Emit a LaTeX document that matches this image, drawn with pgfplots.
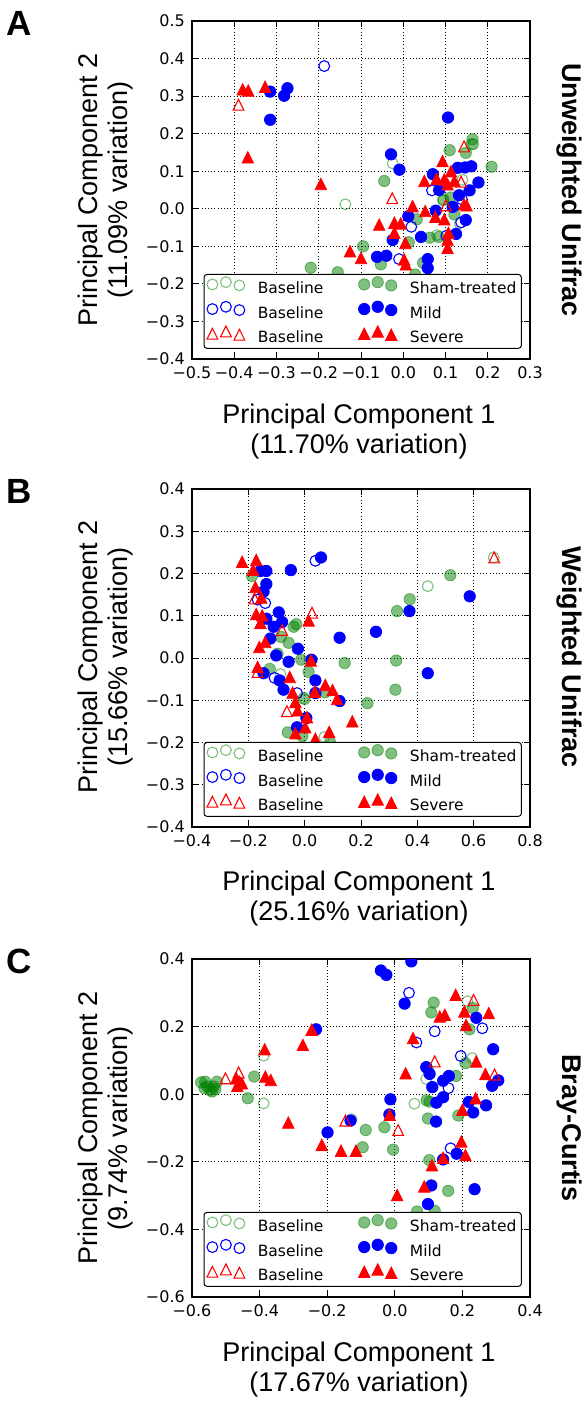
\documentclass[border=0pt]{standalone}
\usepackage{fontspec}
\setmainfont{DejaVu Sans}
\newfontfamily\lab{Liberation Sans}
\usepackage{pgfplots}
\pgfplotsset{compat=1.18}
\definecolor{mg}{rgb}{0,0.5,0}
\definecolor{mb}{rgb}{0,0,1}
\definecolor{mr}{rgb}{1,0,0}
\pgfdeclareplotmark{mtri}{%
  \pgfpathmoveto{\pgfqpoint{0pt}{\pgfplotmarksize}}%
  \pgfpathlineto{\pgfqpoint{-\pgfplotmarksize}{-\pgfplotmarksize}}%
  \pgfpathlineto{\pgfqpoint{\pgfplotmarksize}{-\pgfplotmarksize}}%
  \pgfpathclose\pgfusepathqfillstroke}
\pgfdeclareplotmark{mtrio}{%
  \pgfpathmoveto{\pgfqpoint{0pt}{\pgfplotmarksize}}%
  \pgfpathlineto{\pgfqpoint{-\pgfplotmarksize}{-\pgfplotmarksize}}%
  \pgfpathlineto{\pgfqpoint{\pgfplotmarksize}{-\pgfplotmarksize}}%
  \pgfpathclose\pgfusepathqstroke}
\tikzset{
  leg3/.style={/pgfplots/legend image code/.code={\draw[##1] plot[only marks] coordinates {(0pt,4pt) (13.5pt,6.3pt) (27pt,3pt)};}},
  sgo/.style={mark=o, mark size=5.4pt, mark options={draw=mg, draw opacity=0.5, line width=1.1pt}, leg3},
  sgf/.style={mark=*, mark size=5.7pt, mark options={draw=mg, fill=mg, draw opacity=0.5, fill opacity=0.5, line width=0.8pt}, leg3},
  sbo/.style={mark=o, mark size=5.4pt, mark options={draw=mb, line width=1.1pt}, leg3},
  sbf/.style={mark=*, mark size=5.7pt, mark options={draw=mb, fill=mb, line width=0.8pt}, leg3},
  sro/.style={mark=mtrio, mark size=5.4pt, mark options={draw=mr, line width=1.1pt}, leg3},
  srf/.style={mark=mtri, mark size=5.7pt, mark options={draw=mr, fill=mr, line width=0.8pt}, leg3},
}
\newcommand\labfont{\lab\fontsize{27}{30}\selectfont}
\pgfplotsset{pc/.style={
  scale only axis, width=338pt, height=338pt, anchor=north west,
  axis line style={line width=1.2pt},
  grid=major, major grid style={black, line width=0.8pt, dash pattern=on 1pt off 2.2pt},
  tick align=inside, major tick length=6pt, tick style={black, line width=0.9pt},
  every tick label/.append style={font=\fontsize{16}{18}\selectfont, inner sep=0pt},
  xticklabel style={yshift=-7pt}, yticklabel style={xshift=-7pt},
  clip marker paths=true,
  legend columns=2, legend cell align=left,
  legend style={at={(0.505,0.03)}, anchor=south, draw=black, line width=1pt, rounded corners=3pt,
    fill=white, font=\fontsize{15.5}{17}\selectfont, inner xsep=3pt, inner ysep=2pt, row sep=4pt,
    /tikz/every odd column/.append style={column sep=11pt},
    /tikz/every even column/.append style={column sep=33pt}},
}}
\begin{document}
\begin{tikzpicture}
\useasboundingbox (0,0) rectangle (584pt,-1403pt);
% ---------------- A
\begin{axis}[pc, at={(192pt,-21pt)},
  xmin=-0.5, xmax=0.3, ymin=-0.4, ymax=0.5,
  xtick={-0.5,-0.4,-0.3,-0.2,-0.1,0,0.1,0.2,0.3},
  xticklabels={−0.5,−0.4,−0.3,−0.2,−0.1,0.0,0.1,0.2,0.3},
  ytick={-0.4,-0.3,-0.2,-0.1,0,0.1,0.2,0.3,0.4,0.5},
  yticklabels={−0.4,−0.3,−0.2,−0.1,0.0,0.1,0.2,0.3,0.4,0.5}]
\addplot[only marks, sgo] coordinates {(-0.025,0.121) (-0.137,0.012) (0.094,0.022) (0.080,-0.070) (0.140,0.077) (0.166,0.172) (0.134,-0.039)};
\addplot[only marks, sgf] coordinates {(0.164,0.185) (0.162,0.172) (0.148,0.149) (0.110,0.156) (0.209,0.112) (-0.045,0.074) (0.032,-0.028) (0.063,-0.077) (0.084,-0.075) (-0.095,-0.100) (-0.053,-0.148) (-0.155,-0.169) (-0.219,-0.157) (0.013,-0.089) (0.028,-0.175) (0.047,-0.144) (0.121,-0.015) (0.095,0.025) (0.112,0.030)};
\addplot[only marks, sbo] coordinates {(-0.187,0.380) (0.068,0.049) (0.019,-0.048) (-0.010,-0.134) (0.137,-0.036) (0.102,-0.072) (0.139,0.025)};
\addplot[only marks, sbf] coordinates {(-0.315,0.312) (-0.282,0.301) (-0.274,0.321) (-0.315,0.237) (0.106,0.243) (-0.029,0.145) (-0.009,0.104) (0.070,0.092) (0.129,0.109) (0.146,0.110) (0.161,0.113) (0.178,0.070) (0.157,0.049) (0.132,0.036) (0.117,0.005) (0.077,-0.005) (0.148,-0.030) (0.125,-0.067) (0.042,-0.075) (-0.025,-0.083) (0.012,-0.020) (-0.062,-0.128) (-0.040,-0.125) (0.058,-0.134) (0.058,-0.158) (0.085,0.050)};
\addplot[only marks, sro] coordinates {(-0.390,0.277) (0.144,0.166) (0.137,0.072) (-0.026,0.028) (0.101,0.009)};
\addplot[only marks, srf] coordinates {(-0.380,0.318) (-0.367,0.315) (-0.327,0.325) (-0.368,0.137) (-0.195,0.066) (0.093,0.127) (0.113,0.100) (0.097,0.078) (0.079,0.080) (0.121,0.074) (0.050,0.074) (0.105,0.065) (0.144,0.012) (0.150,0.009) (0.022,0.007) (0.052,-0.006) (0.076,-0.021) (0.097,-0.028) (-0.057,-0.042) (-0.021,-0.037) (-0.006,-0.039) (-0.021,-0.064) (0.005,-0.091) (-0.126,-0.113) (-0.100,-0.131) (0.002,-0.135) (0.006,-0.148) (0.107,-0.064) (0.105,-0.082) (0.105,-0.104)};
\legend{Baseline, Sham-treated, Baseline, Mild, Baseline, Severe}
\end{axis}
% ---------------- B
\begin{axis}[pc, at={(192pt,-489pt)},
  xmin=-0.4, xmax=0.8, ymin=-0.4, ymax=0.4,
  xtick={-0.4,-0.2,0,0.2,0.4,0.6,0.8},
  xticklabels={−0.4,−0.2,0.0,0.2,0.4,0.6,0.8},
  ytick={-0.4,-0.3,-0.2,-0.1,0,0.1,0.2,0.3,0.4},
  yticklabels={−0.4,−0.3,−0.2,−0.1,0.0,0.1,0.2,0.3,0.4}]
\addplot[only marks, sgo] coordinates {(0.437,0.170) (0.671,0.238) (-0.086,-0.038) (0.000,-0.098) (0.070,-0.187)};
\addplot[only marks, sgf] coordinates {(-0.187,0.194) (0.517,0.196) (0.373,0.139) (0.328,0.111) (-0.039,0.074) (-0.030,0.080) (-0.084,0.050) (-0.057,0.036) (-0.012,-0.004) (0.014,-0.033) (0.142,-0.012) (0.325,-0.006) (0.322,-0.075) (0.223,-0.107) (-0.003,-0.095) (-0.124,-0.026) (-0.060,-0.176) (0.090,-0.200) (-0.008,-0.185) (-0.096,0.010) (0.073,-0.081)};
\addplot[only marks, sbo] coordinates {(0.038,0.230) (-0.167,0.138) (-0.140,0.130) (-0.107,-0.047) (-0.027,-0.083)};
\addplot[only marks, sbf] coordinates {(-0.157,0.206) (-0.136,0.206) (-0.049,0.208) (0.058,0.238) (-0.136,0.175) (-0.146,0.157) (-0.092,0.108) (-0.080,0.085) (-0.136,0.093) (-0.110,0.074) (-0.122,0.046) (-0.101,0.006) (-0.057,-0.009) (-0.024,0.022) (0.024,-0.004) (0.038,-0.053) (-0.146,-0.036) (-0.089,-0.053) (-0.075,-0.075) (0.124,0.048) (0.253,0.062) (0.372,0.111) (0.586,0.146) (0.437,-0.036) (0.124,-0.102) (0.006,-0.142) (-0.027,-0.164) (0.038,-0.083)};
\addplot[only marks, sro] coordinates {(0.673,0.238) (0.026,0.107) (-0.178,0.141) (-0.063,-0.126) (-0.080,0.066) (-0.167,-0.033)};
\addplot[only marks, srf] coordinates {(-0.222,0.228) (-0.183,0.209) (-0.172,0.232) (-0.175,0.168) (-0.154,0.143) (-0.172,0.104) (-0.151,0.101) (-0.157,0.083) (-0.161,0.026) (-0.140,0.038) (-0.167,-0.021) (0.014,0.089) (0.022,-0.006) (-0.053,-0.045) (-0.043,-0.082) (-0.033,-0.104) (-0.025,-0.124) (0.036,-0.080) (0.073,-0.064) (0.099,-0.076) (0.115,-0.097) (0.008,-0.140) (0.002,-0.164) (-0.033,-0.178) (0.038,-0.191) (0.087,-0.175) (0.169,-0.150)};
\legend{Baseline, Sham-treated, Baseline, Mild, Baseline, Severe}
\end{axis}
% ---------------- C
\begin{axis}[pc, at={(192pt,-959pt)},
  xmin=-0.6, xmax=0.4, ymin=-0.6, ymax=0.4,
  xtick={-0.6,-0.4,-0.2,0,0.2,0.4},
  xticklabels={−0.6,−0.4,−0.2,0.0,0.2,0.4},
  ytick={-0.6,-0.4,-0.2,0,0.2,0.4},
  yticklabels={−0.6,−0.4,−0.2,0.0,0.2,0.4}]
\addplot[only marks, sgo] coordinates {(-0.388,0.114) (-0.388,-0.027) (0.215,0.275) (0.229,0.107) (0.093,0.045) (0.058,-0.028) (-0.128,-0.074)};
\addplot[only marks, sgf] coordinates {(-0.573,0.035) (-0.561,0.037) (-0.555,0.023) (-0.541,0.008) (-0.536,0.023) (-0.526,0.037) (-0.563,0.018) (-0.546,0.013) (-0.531,0.015) (-0.416,0.052) (-0.435,-0.012) (0.115,0.271) (0.108,0.242) (0.231,0.255) (0.221,0.192) (0.209,0.092) (0.181,0.054) (0.097,0.074) (0.094,-0.018) (0.103,-0.022) (0.098,-0.072) (0.188,-0.063) (-0.031,-0.098) (-0.086,-0.106) (-0.095,-0.157) (-0.005,-0.164) (0.102,-0.195) (0.158,-0.286) (0.066,-0.347) (0.118,-0.345)};
\addplot[only marks, sbo] coordinates {(0.042,0.300) (0.064,0.153) (0.118,0.186) (0.259,0.195) (0.195,0.113) (0.159,0.018) (0.165,-0.160)};
\addplot[only marks, sbf] coordinates {(-0.041,0.366) (-0.025,0.353) (0.049,0.393) (0.029,0.268) (-0.233,0.192) (-0.199,-0.113) (-0.131,-0.078) (-0.013,-0.015) (-0.016,-0.060) (0.093,0.080) (0.103,0.060) (0.111,0.021) (0.123,-0.025) (0.143,-0.009) (0.143,0.040) (0.160,0.054) (0.122,-0.081) (0.241,0.226) (0.291,0.133) (0.288,0.025) (0.306,0.041) (0.219,-0.023) (0.232,-0.054) (0.270,-0.033) (0.183,-0.176) (0.143,-0.193) (0.108,-0.270) (0.098,-0.325) (0.236,-0.281)};
\addplot[only marks, sro] coordinates {(-0.501,0.047) (-0.462,0.064) (-0.146,-0.078) (0.010,-0.106) (0.118,0.097) (0.233,0.279) (0.295,0.058)};
\addplot[only marks, srf] coordinates {(-0.469,0.047) (-0.459,0.037) (-0.452,0.032) (-0.466,0.025) (-0.385,0.133) (-0.383,0.052) (-0.367,0.042) (-0.272,0.146) (-0.246,0.191) (-0.315,-0.084) (-0.216,-0.150) (-0.159,-0.167) (-0.115,-0.167) (-0.015,-0.061) (0.007,-0.298) (0.032,0.062) (0.054,0.166) (0.180,0.294) (0.133,0.230) (0.148,0.235) (0.206,0.245) (0.211,0.205) (0.278,0.240) (0.241,0.097) (0.268,0.060) (0.239,-0.012) (0.200,-0.046) (0.197,-0.140) (0.209,-0.180) (0.143,-0.188) (0.110,-0.210) (0.087,-0.273)};
\legend{Baseline, Sham-treated, Baseline, Mild, Baseline, Severe}
\end{axis}
% ---------------- labels
\foreach \L/\yc/\pct/\side/\ytop in {A/190/11.09/Unweighted Unifrac/21, B/657/15.66/Weighted Unifrac/489, C/1128/9.74/Bray-Curtis/959}{
  \node[font=\lab\bfseries\fontsize{35}{37}\selectfont, inner sep=0pt] at (19pt,-\ytop pt-2pt) {\L};
  \node[font=\labfont, align=center, rotate=90, inner sep=0pt] at (106pt,-\yc pt) {Principal Component 2\\(\pct\% variation)};
  \node[font=\lab\bfseries\fontsize{27}{30}\selectfont, rotate=-90, anchor=base, inner sep=0pt] at (562pt,-\yc pt) {\side};
}
\node[font=\labfont, align=center, anchor=north, inner sep=0pt] at (359pt,-404pt) {Principal Component 1\\(11.70\% variation)};
\node[font=\labfont, align=center, anchor=north, inner sep=0pt] at (359pt,-871pt) {Principal Component 1\\(25.16\% variation)};
\node[font=\labfont, align=center, anchor=north, inner sep=0pt] at (359pt,-1342pt) {Principal Component 1\\(17.67\% variation)};
\end{tikzpicture}
\end{document}
